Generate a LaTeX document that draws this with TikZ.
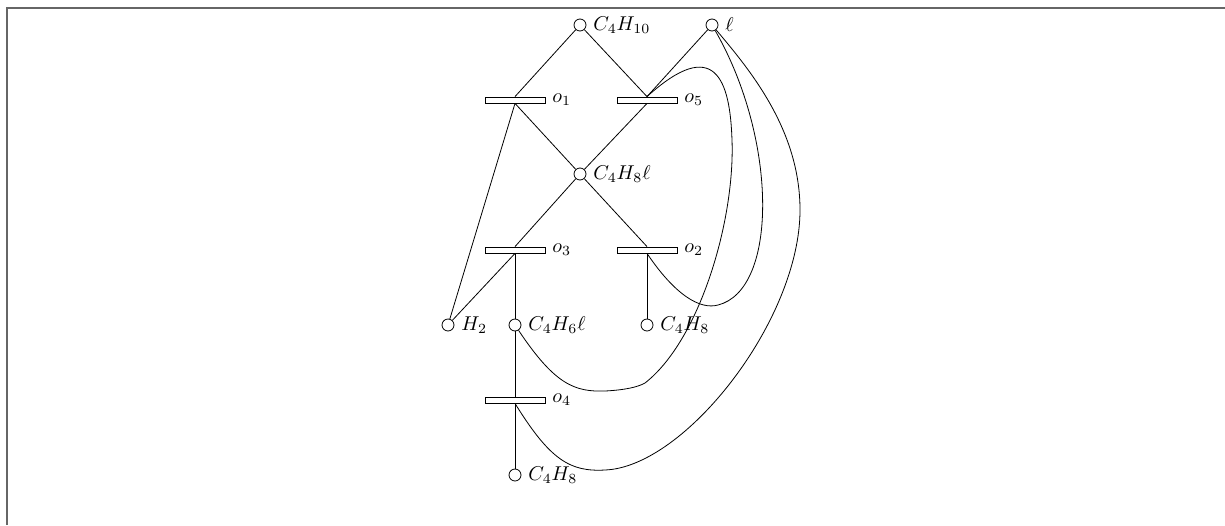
\documentclass[tikz,border=0pt]{standalone}
\begin{document}
\begin{tikzpicture}[x=0.5pt,y=-0.5pt,
  place/.style={circle,draw,minimum size=6pt,inner sep=0pt},
  trans/.style={rectangle,draw,fill=white,minimum width=30pt,minimum height=3pt,inner sep=0pt},
  frameline/.style={draw=black!60,line width=0.7pt}]
\useasboundingbox (0,0) rectangle (1225,525);
\draw[frameline] (7,525) -- (7,8) -- (1225,8);
% places
\node[place,label={right:$C_4H_{10}$}] (c4h10) at (580,25) {};
\node[place,label={right:$\ell$}] (l) at (712,25) {};
\node[place,label={right:$C_4H_8\ell$}] (c4h8l) at (580,174) {};
\node[place,label={right:$H_2$}] (h2) at (448,325) {};
\node[place,label={right:$C_4H_6\ell$}] (c4h6l) at (515,325) {};
\node[place,label={right:$C_4H_8$}] (c4h8a) at (647,325) {};
\node[place,label={right:$C_4H_8$}] (c4h8b) at (515,475) {};
% transitions
\node[trans,label={right:$o_1$}] (o1) at (515,100) {};
\node[trans,label={right:$o_5$}] (o5) at (647,100) {};
\node[trans,label={right:$o_3$}] (o3) at (515,250) {};
\node[trans,label={right:$o_2$}] (o2) at (647,250) {};
\node[trans,label={right:$o_4$}] (o4) at (515,400) {};
% straight arcs
\draw (c4h10) -- (o1.north);
\draw (c4h10) -- (o5.north);
\draw (l) -- (o5.north);
\draw (o1.south) -- (c4h8l);
\draw (o5.south) -- (c4h8l);
\draw (o1.south) -- (h2);
\draw (c4h8l) -- (o3.north);
\draw (c4h8l) -- (o2.north);
\draw (o3.south) -- (h2);
\draw (o3.south) -- (c4h6l);
\draw (o2.south) -- (c4h8a);
\draw (c4h6l) -- (o4.north);
\draw (o4.south) -- (c4h8b);
% curved arcs
\draw (c4h6l) .. controls (555,385) and (575,392) .. (605,391)
  .. controls (625,390) and (638,387) .. (645,383)
  .. controls (700,340) and (735,220) .. (732,140)
  .. controls (730,80) and (715,35) .. (o5.north);
\draw (o2.south) .. controls (675,295) and (700,310) .. (718,305)
  .. controls (778,290) and (778,140) .. (l);
\draw (o4.south) .. controls (550,460) and (570,472) .. (605,470)
  .. controls (685,467) and (800,320) .. (800,210)
  .. controls (800,130) and (750,70) .. (l);
\end{tikzpicture}
\end{document}
